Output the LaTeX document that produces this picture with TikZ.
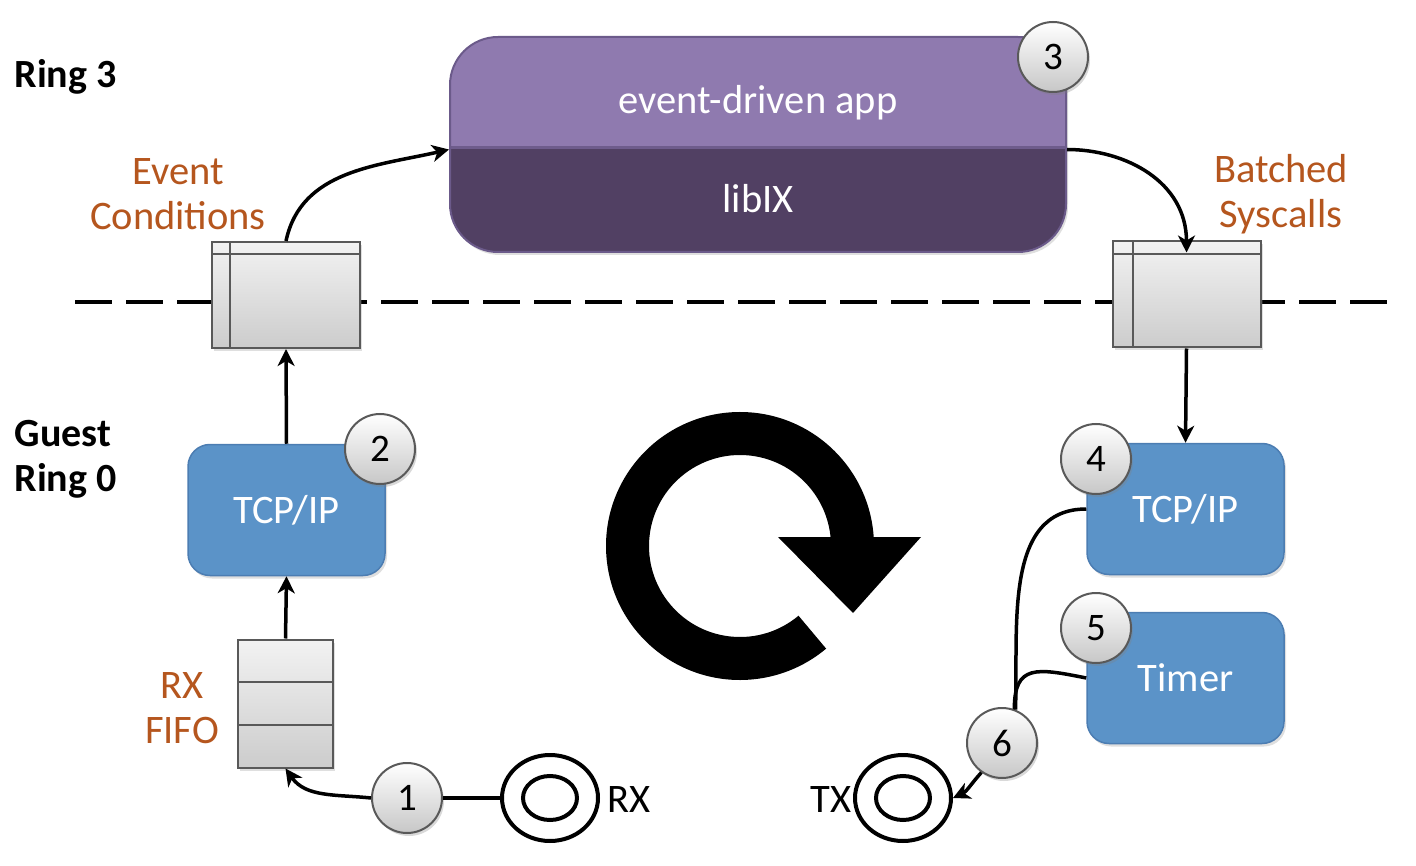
\documentclass[tikz,border=0pt]{standalone}
\usepackage{fontspec}
\setmainfont{Carlito}
\usetikzlibrary{arrows.meta,shapes.geometric,shadows,calc}
\definecolor{blu}{HTML}{5B93C8}
\definecolor{bluedge}{HTML}{4C7DB2}
\definecolor{plight}{HTML}{8F7AAF}
\definecolor{pdark}{HTML}{514063}
\definecolor{pedge}{HTML}{6B5A8A}
\definecolor{pmid}{HTML}{6E5C8C}
\definecolor{orng}{HTML}{B5561E}
\begin{document}
\begin{tikzpicture}[x=1pt,y=1pt,font=\fontsize{40.5}{45}\selectfont,
  num/.style={circle, draw=black!65, line width=2pt, minimum size=70pt, inner sep=0pt,
    top color=white, bottom color=black!22,
    drop shadow={opacity=0.3,shadow xshift=2pt,shadow yshift=-3pt},
    font=\fontsize{39}{39}\selectfont},
  bluebox/.style={rectangle, rounded corners=22pt, fill=blu, draw=bluedge, line width=1.5pt,
    minimum width=197pt, minimum height=131pt, text=white,
    drop shadow={opacity=0.25,shadow xshift=2pt,shadow yshift=-3pt}},
  qbox/.style 2 args={rectangle, draw=black!65, line width=2pt, top color=black!5, bottom color=black!20,
    minimum width=148pt, minimum height=106pt, inner sep=0pt,
    drop shadow={opacity=0.25,shadow xshift=2pt,shadow yshift=-3pt},
    path picture={
      \draw[black!65,line width=2pt] ([xshift=#1]path picture bounding box.north west) -- ([xshift=#1]path picture bounding box.south west);
      \draw[black!65,line width=2pt] ([yshift=-#2]path picture bounding box.north west) -- ([yshift=-#2]path picture bounding box.north east);}},
  conn/.style={line width=3.5pt},
  arr/.style={-{Stealth[length=17pt,width=17pt,inset=5pt]}},
  lbl/.style={text=orng, align=center, font=\fontsize{40.5}{45}\selectfont},
  port/.style={ellipse, draw=black, line width=4pt, minimum width=96pt, minimum height=86pt, inner sep=0pt}
]
\useasboundingbox (0,0) rectangle (1416,-866);

% dashed ring boundary
\draw[line width=4pt, dash pattern=on 37pt off 14pt] (75,-302) -- (1395,-302);

% side labels
\node[anchor=west, font=\bfseries\fontsize{40}{45}\selectfont] (ring3) at (11,-77) {Ring 3};
\node[anchor=west, align=left, font=\bfseries\fontsize{40}{45}\selectfont] (ring0) at (11,-459) {Guest\\Ring 0};

% application box
\node (app) [rectangle, rounded corners=48pt, minimum width=616pt, minimum height=215pt,
  fill=plight, draw=pedge, line width=2pt,
  drop shadow={opacity=0.25,shadow xshift=2pt,shadow yshift=-3pt},
  path picture={
    \fill[pdark, sharp corners] ([yshift=-3.5pt]path picture bounding box.west) rectangle (path picture bounding box.south east);
    \draw[pmid, line width=3pt, sharp corners] ([yshift=-3.5pt]path picture bounding box.west) -- ([yshift=-3.5pt]path picture bounding box.east);}
  ] at (758,-144.5) {};
\node[text=white] (apptxt) at (758,-103) {event-driven app};
\node[text=white] (libtxt) at (758,-199) {libIX};
\coordinate (appL) at ([yshift=-5pt]app.west);
\coordinate (appR) at ([yshift=-5pt]app.east);

% queues
\node[qbox={18pt}{12pt}] (qL) at (286,-295) {};
\node[qbox={20pt}{13pt}] (qR) at (1186.5,-294.5) {};

% labels
\node[lbl] (evc) at (178,-194) {Event\\Conditions};
\node[lbl] (bsc) at (1281,-194) {Batched\\Syscalls};
\node[lbl] (rxf) at (182,-708) {RX\\FIFO};

% stacks
\node[bluebox] (tcpL) at (286.5,-510) {TCP/IP};
\node[bluebox] (tcpR) at (1185.5,-509) {TCP/IP};
\node[bluebox] (timer) at (1185.5,-678) {Timer};

% RX FIFO
\node (fifo) [rectangle, draw=black!65, line width=2pt, top color=black!5, bottom color=black!20,
  minimum width=95pt, minimum height=128pt, inner sep=0pt,
  drop shadow={opacity=0.25,shadow xshift=2pt,shadow yshift=-3pt},
  path picture={
    \draw[black!65,line width=2pt] ($(path picture bounding box.north west)!1/3!(path picture bounding box.south west)$) -- ($(path picture bounding box.north east)!1/3!(path picture bounding box.south east)$);
    \draw[black!65,line width=2pt] ($(path picture bounding box.north west)!2/3!(path picture bounding box.south west)$) -- ($(path picture bounding box.north east)!2/3!(path picture bounding box.south east)$);}
  ] at (285.5,-703.5) {};

% ports
\node[port] (rx) at (550,-798) {};
\draw[line width=4pt] (rx.center) ellipse [x radius=27pt, y radius=22pt];
\node[anchor=west] (rxt) at (604,-800) {RX};
\node[port] (tx) at (903,-798) {};
\draw[line width=4pt] (tx.center) ellipse [x radius=27pt, y radius=22pt];
\node[anchor=east] (txt) at (855,-800) {TX};

% big loop arrow
\fill (740,-546) ++(3:134) arc[start angle=3,end angle=310,radius=134]
   -- ++(130:43) arc[start angle=310,end angle=3,radius=91] -- cycle;
\fill (778,-537) -- (921,-537) -- (853,-613) -- cycle;

% number circles
\node[num] (n1) at (407,-798) {1};
\node[num] (n2) at (380,-449) {2};
\node[num] (n3) at (1053,-57) {3};
\node[num] (n4) at (1096,-459) {4};
\node[num] (n5) at (1096,-628) {5};
\node[num] (n6) at (1002,-743) {6};

% connectors
\draw[conn,arr] (fifo.north) -- (tcpL.south);
\draw[conn,arr] (tcpL.north) -- (qL.south);
\draw[conn,arr] (qL.north) to[out=78,in=193] (appL);
\draw[conn,arr,shorten >=-12pt] (appR) to[out=0,in=90] (qR.north);
\draw[conn,arr] (qR.south) -- (tcpR.north);
\draw[conn] (n1.east) -- (rx.west);
\draw[conn,arr] (n1.west) to[out=174,in=-55] (fifo.south);
\draw[conn] (tcpR.west) to[out=180,in=88] (n6.68);
\draw[conn] (timer.west) .. controls +(-50,10) and +(0,45) .. (n6.70);
\draw[conn,arr] (n6.235) to[out=228,in=25] (tx.east);
\end{tikzpicture}
\end{document}
